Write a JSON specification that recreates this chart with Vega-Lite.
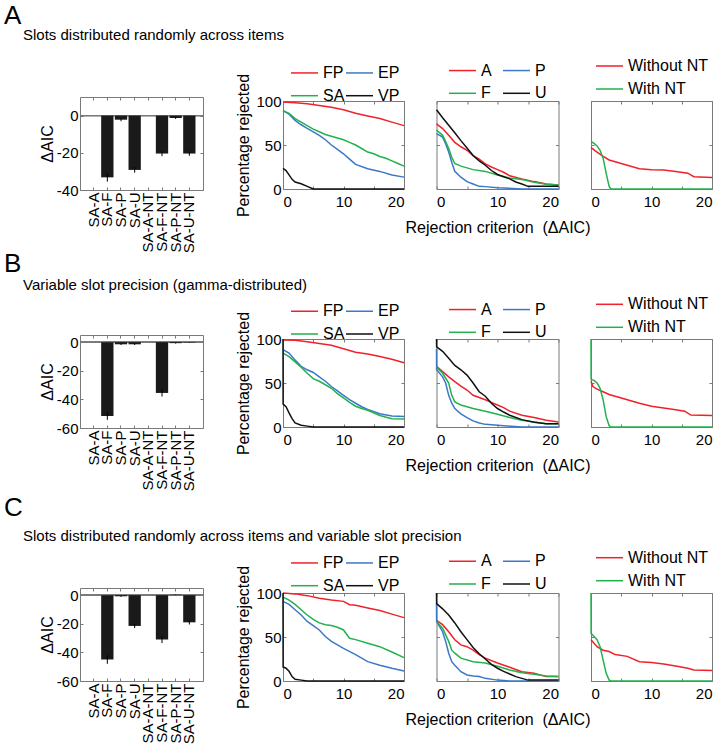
{
  "$schema": "https://vega.github.io/schema/vega-lite/v6.json",
  "autosize": {"type": "none"},
  "padding": {"left": 80, "top": 97, "right": 646, "bottom": 653},
  "background": "white",
  "config": {
    "font": "Liberation Sans",
    "view": {"stroke": "#7a7a7a", "strokeWidth": 1},
    "axis": {"domain": false, "grid": false, "ticks": true, "tickColor": "#7a7a7a", "tickSize": -3, "labelFontSize": 15, "labelColor": "#000", "titleFontSize": 16, "titleFontWeight": "normal", "titleColor": "#000", "labelPadding": 5},
    "axisX": {"labelPadding": 8},
    "legend": {"orient": "none", "symbolType": "stroke", "symbolSize": 729, "symbolStrokeWidth": 1.5, "labelFontSize": 16, "labelColor": "#000", "labelOffset": 4, "rowPadding": -8, "padding": 0, "columnPadding": -3},
    "title": {"fontWeight": "normal", "color": "#000", "anchor": "start", "frame": "group", "baseline": "alphabetic"},
    "line": {"strokeWidth": 1.5}
  },
  "datasets": {
    "B": [
      {"r": "A", "m": "SA-A", "v": 0, "lo": 0, "hi": 0},
      {"r": "A", "m": "SA-F", "v": -33.2, "lo": -35.5, "hi": -31},
      {"r": "A", "m": "SA-P", "v": -2.2, "lo": -3, "hi": -1.4},
      {"r": "A", "m": "SA-U", "v": -29.2, "lo": -30.7, "hi": -27.7},
      {"r": "A", "m": "SA-A-NT", "v": 0, "lo": 0, "hi": 0},
      {"r": "A", "m": "SA-F-NT", "v": -20.4, "lo": -21.8, "hi": -19},
      {"r": "A", "m": "SA-P-NT", "v": -1.3, "lo": -1.8, "hi": -0.8},
      {"r": "A", "m": "SA-U-NT", "v": -20.4, "lo": -21.6, "hi": -19.2},
      {"r": "B", "m": "SA-A", "v": 0, "lo": 0, "hi": 0},
      {"r": "B", "m": "SA-F", "v": -51.7, "lo": -54.3, "hi": -49},
      {"r": "B", "m": "SA-P", "v": -1.5, "lo": -2, "hi": -1},
      {"r": "B", "m": "SA-U", "v": -1.5, "lo": -2, "hi": -1},
      {"r": "B", "m": "SA-A-NT", "v": 0, "lo": 0, "hi": 0},
      {"r": "B", "m": "SA-F-NT", "v": -35.5, "lo": -38, "hi": -33},
      {"r": "B", "m": "SA-P-NT", "v": -0.7, "lo": -1, "hi": -0.4},
      {"r": "B", "m": "SA-U-NT", "v": -0.3, "lo": -0.5, "hi": -0.1},
      {"r": "C", "m": "SA-A", "v": 0, "lo": 0, "hi": 0},
      {"r": "C", "m": "SA-F", "v": -45, "lo": -48, "hi": -42},
      {"r": "C", "m": "SA-P", "v": -0.8, "lo": -1.2, "hi": -0.4},
      {"r": "C", "m": "SA-U", "v": -21.5, "lo": -23, "hi": -20},
      {"r": "C", "m": "SA-A-NT", "v": 0, "lo": 0, "hi": 0},
      {"r": "C", "m": "SA-F-NT", "v": -31, "lo": -33.5, "hi": -28.5},
      {"r": "C", "m": "SA-P-NT", "v": 0.3, "lo": 0.1, "hi": 0.5},
      {"r": "C", "m": "SA-U-NT", "v": -19, "lo": -20.5, "hi": -17.5}
    ],
    "L": [
      {"p":"A1","s":"FP","x":0,"y":99},{"p":"A1","s":"FP","x":2,"y":98},{"p":"A1","s":"FP","x":4,"y":97},{"p":"A1","s":"FP","x":6,"y":95},{"p":"A1","s":"FP","x":8,"y":93},{"p":"A1","s":"FP","x":10,"y":90},{"p":"A1","s":"FP","x":12,"y":86},{"p":"A1","s":"FP","x":14,"y":83},{"p":"A1","s":"FP","x":16,"y":80},{"p":"A1","s":"FP","x":18,"y":76},{"p":"A1","s":"FP","x":20,"y":72},
      {"p":"A1","s":"EP","x":0,"y":89},{"p":"A1","s":"EP","x":1,"y":85},{"p":"A1","s":"EP","x":2,"y":78},{"p":"A1","s":"EP","x":3,"y":73},{"p":"A1","s":"EP","x":4,"y":69},{"p":"A1","s":"EP","x":5,"y":65},{"p":"A1","s":"EP","x":6,"y":61},{"p":"A1","s":"EP","x":7,"y":56},{"p":"A1","s":"EP","x":8,"y":50},{"p":"A1","s":"EP","x":9,"y":45},{"p":"A1","s":"EP","x":10,"y":40},{"p":"A1","s":"EP","x":11,"y":34},{"p":"A1","s":"EP","x":12,"y":28},{"p":"A1","s":"EP","x":14,"y":23},{"p":"A1","s":"EP","x":16,"y":20},{"p":"A1","s":"EP","x":18,"y":16},{"p":"A1","s":"EP","x":20,"y":13.5},
      {"p":"A1","s":"SA","x":0,"y":89},{"p":"A1","s":"SA","x":1,"y":86},{"p":"A1","s":"SA","x":2,"y":80},{"p":"A1","s":"SA","x":3,"y":76},{"p":"A1","s":"SA","x":4,"y":72},{"p":"A1","s":"SA","x":5,"y":68},{"p":"A1","s":"SA","x":6,"y":65},{"p":"A1","s":"SA","x":7,"y":62},{"p":"A1","s":"SA","x":8,"y":60},{"p":"A1","s":"SA","x":9,"y":58},{"p":"A1","s":"SA","x":10,"y":56},{"p":"A1","s":"SA","x":11,"y":53},{"p":"A1","s":"SA","x":12,"y":50},{"p":"A1","s":"SA","x":13,"y":46},{"p":"A1","s":"SA","x":14,"y":42},{"p":"A1","s":"SA","x":15,"y":40},{"p":"A1","s":"SA","x":16,"y":37},{"p":"A1","s":"SA","x":17,"y":35},{"p":"A1","s":"SA","x":18,"y":32},{"p":"A1","s":"SA","x":19,"y":29},{"p":"A1","s":"SA","x":20,"y":26},
      {"p":"A1","s":"VP","x":0,"y":23.5},{"p":"A1","s":"VP","x":0.5,"y":21},{"p":"A1","s":"VP","x":1,"y":16},{"p":"A1","s":"VP","x":1.5,"y":11},{"p":"A1","s":"VP","x":2,"y":8},{"p":"A1","s":"VP","x":3,"y":6},{"p":"A1","s":"VP","x":4,"y":3},{"p":"A1","s":"VP","x":5,"y":0},{"p":"A1","s":"VP","x":20,"y":0},

      {"p":"A2","s":"A","x":0,"y":74},{"p":"A2","s":"A","x":1,"y":68.7},{"p":"A2","s":"A","x":2,"y":61},{"p":"A2","s":"A","x":3,"y":53},{"p":"A2","s":"A","x":4,"y":48},{"p":"A2","s":"A","x":5,"y":44},{"p":"A2","s":"A","x":6,"y":38},{"p":"A2","s":"A","x":7,"y":34},{"p":"A2","s":"A","x":8,"y":28.6},{"p":"A2","s":"A","x":9,"y":25},{"p":"A2","s":"A","x":10,"y":22},{"p":"A2","s":"A","x":11,"y":19},{"p":"A2","s":"A","x":12,"y":15},{"p":"A2","s":"A","x":14,"y":11.5},{"p":"A2","s":"A","x":16,"y":8.4},{"p":"A2","s":"A","x":18,"y":5.7},{"p":"A2","s":"A","x":20,"y":4.6},
      {"p":"A2","s":"P","x":0,"y":63},{"p":"A2","s":"P","x":1,"y":59},{"p":"A2","s":"P","x":1.5,"y":51.5},{"p":"A2","s":"P","x":2,"y":42},{"p":"A2","s":"P","x":2.5,"y":30.5},{"p":"A2","s":"P","x":3,"y":20},{"p":"A2","s":"P","x":4,"y":13.4},{"p":"A2","s":"P","x":5,"y":8.4},{"p":"A2","s":"P","x":6,"y":5.7},{"p":"A2","s":"P","x":7,"y":3},{"p":"A2","s":"P","x":8,"y":2.7},{"p":"A2","s":"P","x":10,"y":1.5},{"p":"A2","s":"P","x":14,"y":0},{"p":"A2","s":"P","x":20,"y":0},
      {"p":"A2","s":"F","x":0,"y":67},{"p":"A2","s":"F","x":1,"y":61},{"p":"A2","s":"F","x":1.5,"y":54},{"p":"A2","s":"F","x":2,"y":46},{"p":"A2","s":"F","x":2.5,"y":36},{"p":"A2","s":"F","x":3,"y":29},{"p":"A2","s":"F","x":4,"y":26},{"p":"A2","s":"F","x":6,"y":22},{"p":"A2","s":"F","x":8,"y":20},{"p":"A2","s":"F","x":10,"y":16},{"p":"A2","s":"F","x":12,"y":12.6},{"p":"A2","s":"F","x":14,"y":10.7},{"p":"A2","s":"F","x":16,"y":7.6},{"p":"A2","s":"F","x":18,"y":5.3},{"p":"A2","s":"F","x":20,"y":4.6},
      {"p":"A2","s":"U","x":0,"y":90},{"p":"A2","s":"U","x":1,"y":81},{"p":"A2","s":"U","x":2,"y":72.5},{"p":"A2","s":"U","x":3,"y":64},{"p":"A2","s":"U","x":4,"y":55},{"p":"A2","s":"U","x":5,"y":46.5},{"p":"A2","s":"U","x":6,"y":38},{"p":"A2","s":"U","x":7,"y":32},{"p":"A2","s":"U","x":8,"y":27},{"p":"A2","s":"U","x":9,"y":21},{"p":"A2","s":"U","x":10,"y":16.5},{"p":"A2","s":"U","x":11,"y":14},{"p":"A2","s":"U","x":12,"y":11.5},{"p":"A2","s":"U","x":13,"y":8},{"p":"A2","s":"U","x":14,"y":5.7},{"p":"A2","s":"U","x":15,"y":3},{"p":"A2","s":"U","x":20,"y":3},

      {"p":"A3","s":"Without NT","x":0,"y":47},{"p":"A3","s":"Without NT","x":1,"y":42},{"p":"A3","s":"Without NT","x":2,"y":37},{"p":"A3","s":"Without NT","x":3,"y":33},{"p":"A3","s":"Without NT","x":4,"y":31},{"p":"A3","s":"Without NT","x":6,"y":27},{"p":"A3","s":"Without NT","x":8,"y":23},{"p":"A3","s":"Without NT","x":10,"y":22},{"p":"A3","s":"Without NT","x":12,"y":21.5},{"p":"A3","s":"Without NT","x":14,"y":20},{"p":"A3","s":"Without NT","x":16,"y":18},{"p":"A3","s":"Without NT","x":17,"y":14},{"p":"A3","s":"Without NT","x":20,"y":13},
      {"p":"A3","s":"With NT","x":0,"y":54},{"p":"A3","s":"With NT","x":0.5,"y":52},{"p":"A3","s":"With NT","x":1,"y":49},{"p":"A3","s":"With NT","x":1.5,"y":44},{"p":"A3","s":"With NT","x":2,"y":35},{"p":"A3","s":"With NT","x":2.5,"y":18},{"p":"A3","s":"With NT","x":3,"y":3},{"p":"A3","s":"With NT","x":3.3,"y":0},{"p":"A3","s":"With NT","x":20,"y":0},

      {"p":"B1","s":"FP","x":0,"y":99},{"p":"B1","s":"FP","x":2,"y":98.5},{"p":"B1","s":"FP","x":4,"y":97},{"p":"B1","s":"FP","x":6,"y":95},{"p":"B1","s":"FP","x":8,"y":93},{"p":"B1","s":"FP","x":10,"y":89},{"p":"B1","s":"FP","x":12,"y":85},{"p":"B1","s":"FP","x":14,"y":83},{"p":"B1","s":"FP","x":16,"y":80},{"p":"B1","s":"FP","x":18,"y":77},{"p":"B1","s":"FP","x":20,"y":73},
      {"p":"B1","s":"EP","x":0,"y":88},{"p":"B1","s":"EP","x":1,"y":84},{"p":"B1","s":"EP","x":2,"y":76},{"p":"B1","s":"EP","x":3,"y":69},{"p":"B1","s":"EP","x":4,"y":65},{"p":"B1","s":"EP","x":5,"y":62},{"p":"B1","s":"EP","x":6,"y":57},{"p":"B1","s":"EP","x":7,"y":52},{"p":"B1","s":"EP","x":8,"y":46},{"p":"B1","s":"EP","x":9,"y":41},{"p":"B1","s":"EP","x":10,"y":36},{"p":"B1","s":"EP","x":11,"y":31},{"p":"B1","s":"EP","x":12,"y":27},{"p":"B1","s":"EP","x":13,"y":23},{"p":"B1","s":"EP","x":14,"y":20},{"p":"B1","s":"EP","x":16,"y":15},{"p":"B1","s":"EP","x":18,"y":12.5},{"p":"B1","s":"EP","x":20,"y":12},
      {"p":"B1","s":"SA","x":0,"y":84},{"p":"B1","s":"SA","x":1,"y":80},{"p":"B1","s":"SA","x":2,"y":74},{"p":"B1","s":"SA","x":3,"y":68},{"p":"B1","s":"SA","x":4,"y":61},{"p":"B1","s":"SA","x":5,"y":55},{"p":"B1","s":"SA","x":6,"y":52},{"p":"B1","s":"SA","x":7,"y":48},{"p":"B1","s":"SA","x":8,"y":44},{"p":"B1","s":"SA","x":9,"y":38},{"p":"B1","s":"SA","x":10,"y":33},{"p":"B1","s":"SA","x":11,"y":28},{"p":"B1","s":"SA","x":12,"y":23.6},{"p":"B1","s":"SA","x":13,"y":21},{"p":"B1","s":"SA","x":14,"y":19},{"p":"B1","s":"SA","x":16,"y":13},{"p":"B1","s":"SA","x":18,"y":9.5},{"p":"B1","s":"SA","x":20,"y":9},
      {"p":"B1","s":"VP","x":0,"y":100},{"p":"B1","s":"VP","x":0.02,"y":26},{"p":"B1","s":"VP","x":0.5,"y":23},{"p":"B1","s":"VP","x":1,"y":16},{"p":"B1","s":"VP","x":1.5,"y":9.5},{"p":"B1","s":"VP","x":2,"y":4.6},{"p":"B1","s":"VP","x":3,"y":2},{"p":"B1","s":"VP","x":4,"y":1},{"p":"B1","s":"VP","x":5,"y":0},{"p":"B1","s":"VP","x":20,"y":0},

      {"p":"B2","s":"A","x":0,"y":69},{"p":"B2","s":"A","x":1,"y":63},{"p":"B2","s":"A","x":2,"y":57},{"p":"B2","s":"A","x":3,"y":51.5},{"p":"B2","s":"A","x":4,"y":46.5},{"p":"B2","s":"A","x":5,"y":42},{"p":"B2","s":"A","x":6,"y":36},{"p":"B2","s":"A","x":7,"y":33.6},{"p":"B2","s":"A","x":8,"y":31},{"p":"B2","s":"A","x":9,"y":28},{"p":"B2","s":"A","x":10,"y":25},{"p":"B2","s":"A","x":11,"y":22},{"p":"B2","s":"A","x":12,"y":18},{"p":"B2","s":"A","x":14,"y":13.4},{"p":"B2","s":"A","x":16,"y":10.7},{"p":"B2","s":"A","x":18,"y":7.6},{"p":"B2","s":"A","x":20,"y":5.7},
      {"p":"B2","s":"P","x":0,"y":89},{"p":"B2","s":"P","x":0.02,"y":65},{"p":"B2","s":"P","x":1,"y":57},{"p":"B2","s":"P","x":1.5,"y":50},{"p":"B2","s":"P","x":2,"y":36},{"p":"B2","s":"P","x":2.5,"y":27},{"p":"B2","s":"P","x":3,"y":21},{"p":"B2","s":"P","x":4,"y":15},{"p":"B2","s":"P","x":5,"y":10.7},{"p":"B2","s":"P","x":6,"y":7},{"p":"B2","s":"P","x":7,"y":4.6},{"p":"B2","s":"P","x":8,"y":3},{"p":"B2","s":"P","x":10,"y":2},{"p":"B2","s":"P","x":14,"y":0},{"p":"B2","s":"P","x":20,"y":0},
      {"p":"B2","s":"F","x":0,"y":68},{"p":"B2","s":"F","x":1,"y":61},{"p":"B2","s":"F","x":2,"y":50},{"p":"B2","s":"F","x":2.5,"y":36},{"p":"B2","s":"F","x":3,"y":28.6},{"p":"B2","s":"F","x":4,"y":25},{"p":"B2","s":"F","x":6,"y":21},{"p":"B2","s":"F","x":8,"y":18},{"p":"B2","s":"F","x":10,"y":14.5},{"p":"B2","s":"F","x":12,"y":10.7},{"p":"B2","s":"F","x":14,"y":7.6},{"p":"B2","s":"F","x":16,"y":5.7},{"p":"B2","s":"F","x":18,"y":3.8},{"p":"B2","s":"F","x":20,"y":3.8},
      {"p":"B2","s":"U","x":0,"y":100},{"p":"B2","s":"U","x":0.02,"y":91},{"p":"B2","s":"U","x":1,"y":86},{"p":"B2","s":"U","x":2,"y":78},{"p":"B2","s":"U","x":3,"y":70},{"p":"B2","s":"U","x":4,"y":65},{"p":"B2","s":"U","x":5,"y":59},{"p":"B2","s":"U","x":6,"y":50},{"p":"B2","s":"U","x":7,"y":40},{"p":"B2","s":"U","x":8,"y":35},{"p":"B2","s":"U","x":9,"y":27},{"p":"B2","s":"U","x":10,"y":21},{"p":"B2","s":"U","x":11,"y":17},{"p":"B2","s":"U","x":12,"y":13.4},{"p":"B2","s":"U","x":14,"y":8.4},{"p":"B2","s":"U","x":16,"y":5.3},{"p":"B2","s":"U","x":18,"y":3.8},{"p":"B2","s":"U","x":20,"y":3.8},

      {"p":"B3","s":"Without NT","x":0,"y":52},{"p":"B3","s":"Without NT","x":0.3,"y":46},{"p":"B3","s":"Without NT","x":1,"y":43},{"p":"B3","s":"Without NT","x":2,"y":40},{"p":"B3","s":"Without NT","x":3,"y":37},{"p":"B3","s":"Without NT","x":4,"y":35},{"p":"B3","s":"Without NT","x":5,"y":33},{"p":"B3","s":"Without NT","x":6,"y":31},{"p":"B3","s":"Without NT","x":7,"y":29},{"p":"B3","s":"Without NT","x":8,"y":27},{"p":"B3","s":"Without NT","x":10,"y":23.5},{"p":"B3","s":"Without NT","x":12,"y":21.5},{"p":"B3","s":"Without NT","x":14,"y":19.5},{"p":"B3","s":"Without NT","x":15.5,"y":18},{"p":"B3","s":"Without NT","x":16.5,"y":13.5},{"p":"B3","s":"Without NT","x":20,"y":13},
      {"p":"B3","s":"With NT","x":0,"y":100},{"p":"B3","s":"With NT","x":0.02,"y":54},{"p":"B3","s":"With NT","x":0.5,"y":53},{"p":"B3","s":"With NT","x":1,"y":50},{"p":"B3","s":"With NT","x":1.5,"y":44},{"p":"B3","s":"With NT","x":2,"y":31},{"p":"B3","s":"With NT","x":2.5,"y":12},{"p":"B3","s":"With NT","x":3,"y":1.5},{"p":"B3","s":"With NT","x":3.3,"y":0},{"p":"B3","s":"With NT","x":20,"y":0},

      {"p":"C1","s":"FP","x":0,"y":100},{"p":"C1","s":"FP","x":2,"y":99},{"p":"C1","s":"FP","x":4,"y":97},{"p":"C1","s":"FP","x":6,"y":94},{"p":"C1","s":"FP","x":8,"y":92},{"p":"C1","s":"FP","x":10,"y":90.5},{"p":"C1","s":"FP","x":11,"y":86.7},{"p":"C1","s":"FP","x":12,"y":86},{"p":"C1","s":"FP","x":14,"y":83},{"p":"C1","s":"FP","x":16,"y":80},{"p":"C1","s":"FP","x":18,"y":76},{"p":"C1","s":"FP","x":20,"y":72},
      {"p":"C1","s":"EP","x":0,"y":90.5},{"p":"C1","s":"EP","x":1,"y":87},{"p":"C1","s":"EP","x":2,"y":81},{"p":"C1","s":"EP","x":3,"y":75},{"p":"C1","s":"EP","x":4,"y":67.7},{"p":"C1","s":"EP","x":5,"y":63},{"p":"C1","s":"EP","x":6,"y":58},{"p":"C1","s":"EP","x":7,"y":50.5},{"p":"C1","s":"EP","x":8,"y":45},{"p":"C1","s":"EP","x":9,"y":41},{"p":"C1","s":"EP","x":10,"y":37},{"p":"C1","s":"EP","x":12,"y":30},{"p":"C1","s":"EP","x":14,"y":22},{"p":"C1","s":"EP","x":16,"y":18},{"p":"C1","s":"EP","x":18,"y":14.5},{"p":"C1","s":"EP","x":20,"y":11.4},
      {"p":"C1","s":"SA","x":0,"y":95.4},{"p":"C1","s":"SA","x":1,"y":92},{"p":"C1","s":"SA","x":2,"y":87},{"p":"C1","s":"SA","x":3,"y":81},{"p":"C1","s":"SA","x":4,"y":75},{"p":"C1","s":"SA","x":5,"y":70},{"p":"C1","s":"SA","x":6,"y":66},{"p":"C1","s":"SA","x":7,"y":64},{"p":"C1","s":"SA","x":8,"y":63},{"p":"C1","s":"SA","x":9,"y":61},{"p":"C1","s":"SA","x":10,"y":58},{"p":"C1","s":"SA","x":11,"y":48.6},{"p":"C1","s":"SA","x":12,"y":47},{"p":"C1","s":"SA","x":14,"y":43},{"p":"C1","s":"SA","x":16,"y":39},{"p":"C1","s":"SA","x":18,"y":33},{"p":"C1","s":"SA","x":20,"y":26.5},
      {"p":"C1","s":"VP","x":0,"y":100},{"p":"C1","s":"VP","x":0.02,"y":16},{"p":"C1","s":"VP","x":0.5,"y":14.5},{"p":"C1","s":"VP","x":1,"y":11},{"p":"C1","s":"VP","x":1.5,"y":5},{"p":"C1","s":"VP","x":2,"y":2},{"p":"C1","s":"VP","x":3,"y":1},{"p":"C1","s":"VP","x":4,"y":0},{"p":"C1","s":"VP","x":20,"y":0},

      {"p":"C2","s":"A","x":0,"y":69},{"p":"C2","s":"A","x":1,"y":64},{"p":"C2","s":"A","x":2,"y":56},{"p":"C2","s":"A","x":3,"y":46.8},{"p":"C2","s":"A","x":4,"y":41},{"p":"C2","s":"A","x":5,"y":39},{"p":"C2","s":"A","x":6,"y":35},{"p":"C2","s":"A","x":7,"y":30},{"p":"C2","s":"A","x":8,"y":26},{"p":"C2","s":"A","x":10,"y":20.5},{"p":"C2","s":"A","x":12,"y":15.6},{"p":"C2","s":"A","x":14,"y":10.6},{"p":"C2","s":"A","x":16,"y":8.7},{"p":"C2","s":"A","x":18,"y":5},{"p":"C2","s":"A","x":20,"y":5},
      {"p":"C2","s":"P","x":0,"y":88},{"p":"C2","s":"P","x":0.02,"y":67.7},{"p":"C2","s":"P","x":1,"y":56},{"p":"C2","s":"P","x":1.5,"y":45},{"p":"C2","s":"P","x":2,"y":31.6},{"p":"C2","s":"P","x":2.5,"y":22},{"p":"C2","s":"P","x":3,"y":18},{"p":"C2","s":"P","x":4,"y":10.6},{"p":"C2","s":"P","x":5,"y":6.8},{"p":"C2","s":"P","x":6,"y":5.7},{"p":"C2","s":"P","x":7,"y":5},{"p":"C2","s":"P","x":8,"y":3},{"p":"C2","s":"P","x":10,"y":1},{"p":"C2","s":"P","x":12,"y":0},{"p":"C2","s":"P","x":20,"y":0},
      {"p":"C2","s":"F","x":0,"y":67.7},{"p":"C2","s":"F","x":1,"y":60},{"p":"C2","s":"F","x":2,"y":45},{"p":"C2","s":"F","x":2.5,"y":35},{"p":"C2","s":"F","x":3,"y":31.6},{"p":"C2","s":"F","x":4,"y":26},{"p":"C2","s":"F","x":6,"y":22},{"p":"C2","s":"F","x":8,"y":20.5},{"p":"C2","s":"F","x":10,"y":16.7},{"p":"C2","s":"F","x":12,"y":12.5},{"p":"C2","s":"F","x":14,"y":9.5},{"p":"C2","s":"F","x":16,"y":7.6},{"p":"C2","s":"F","x":18,"y":5.7},{"p":"C2","s":"F","x":20,"y":5},
      {"p":"C2","s":"U","x":0,"y":100},{"p":"C2","s":"U","x":0.02,"y":88},{"p":"C2","s":"U","x":1,"y":82},{"p":"C2","s":"U","x":2,"y":75},{"p":"C2","s":"U","x":3,"y":66},{"p":"C2","s":"U","x":4,"y":56},{"p":"C2","s":"U","x":5,"y":47},{"p":"C2","s":"U","x":6,"y":38},{"p":"C2","s":"U","x":7,"y":31},{"p":"C2","s":"U","x":8,"y":25},{"p":"C2","s":"U","x":9,"y":19},{"p":"C2","s":"U","x":10,"y":14.5},{"p":"C2","s":"U","x":11,"y":11},{"p":"C2","s":"U","x":12,"y":8},{"p":"C2","s":"U","x":13,"y":5},{"p":"C2","s":"U","x":14,"y":3},{"p":"C2","s":"U","x":15,"y":1},{"p":"C2","s":"U","x":20,"y":1},

      {"p":"C3","s":"Without NT","x":0,"y":47},{"p":"C3","s":"Without NT","x":1,"y":39},{"p":"C3","s":"Without NT","x":2,"y":35},{"p":"C3","s":"Without NT","x":3,"y":33.5},{"p":"C3","s":"Without NT","x":4,"y":30},{"p":"C3","s":"Without NT","x":6,"y":28},{"p":"C3","s":"Without NT","x":8,"y":22},{"p":"C3","s":"Without NT","x":10,"y":21},{"p":"C3","s":"Without NT","x":12,"y":19.4},{"p":"C3","s":"Without NT","x":14,"y":17},{"p":"C3","s":"Without NT","x":16,"y":14.5},{"p":"C3","s":"Without NT","x":17,"y":12.5},{"p":"C3","s":"Without NT","x":20,"y":12},
      {"p":"C3","s":"With NT","x":0,"y":100},{"p":"C3","s":"With NT","x":0.02,"y":54},{"p":"C3","s":"With NT","x":0.5,"y":50.6},{"p":"C3","s":"With NT","x":1,"y":47},{"p":"C3","s":"With NT","x":1.5,"y":39},{"p":"C3","s":"With NT","x":2,"y":24},{"p":"C3","s":"With NT","x":2.5,"y":9},{"p":"C3","s":"With NT","x":3,"y":1},{"p":"C3","s":"With NT","x":3.3,"y":0},{"p":"C3","s":"With NT","x":20,"y":0}
    ]
  },
  "spacing": 203,
  "bounds": "flush",
  "resolve": {"scale": {"color": "independent"}},
  "hconcat": [
    {
      "bounds": "flush", "spacing": 238,
      "vconcat": [
        {
          "bounds": "flush",
          "title": {"text": "A", "fontSize": 26, "dx": -76, "offset": -2},
          "vconcat": [
            {
              "width": 123, "height": 93,
              "title": {"text": "Slots distributed randomly across items", "fontSize": 15, "dx": -57, "offset": 54},
              "data": {"name": "B"},
              "transform": [{"filter": "datum.r == 'A'"}],
              "resolve": {"axis": {"x": "independent", "y": "independent"}},
              "layer": [
                {"mark": {"type": "rule", "color": "#7a7a7a"}, "encoding": {"y": {"datum": 0, "type": "quantitative", "axis": null}}},
                {"mark": {"type": "bar", "color": "#1a1a1a"},
                 "encoding": {
                   "x": {"field": "m", "type": "nominal", "sort": null, "scale": {"paddingInner": 0.1, "paddingOuter": 0.55}, "axis": {"title": null, "labelAngle": -90, "labelPadding": 5}},
                   "y": {"field": "v", "type": "quantitative", "scale": {"domain": [-40, 10], "nice": false}, "axis": {"values": [-40, -20, 0], "labelExpr": "'' + datum.value", "title": "ΔAIC", "titlePadding": 1}}}},
                {"mark": {"type": "rule", "color": "#000"},
                 "encoding": {"x": {"field": "m", "type": "nominal", "sort": null, "axis": null}, "y": {"field": "lo", "type": "quantitative", "axis": null}, "y2": {"field": "hi"}}},
                {"mark": {"type": "tick", "opacity": 0},
                 "encoding": {"x": {"field": "m", "type": "nominal", "sort": null, "axis": {"orient": "top", "labels": false, "title": null}}, "y": {"field": "v", "type": "quantitative", "axis": {"orient": "right", "values": [-40, -20, 0], "labels": false, "title": null}}}}
              ]
            }
          ]
        },
        {
          "bounds": "flush", "spacing": 253,
          "vconcat": [
            {
              "bounds": "flush",
              "title": {"text": "B", "fontSize": 26, "dx": -76, "offset": 0},
              "vconcat": [
                {
                  "width": 123, "height": 93,
                  "title": {"text": "Variable slot precision (gamma-distributed)", "fontSize": 15, "dx": -57, "offset": 42},
                  "data": {"name": "B"},
                  "transform": [{"filter": "datum.r == 'B'"}],
                  "resolve": {"axis": {"x": "independent", "y": "independent"}},
                  "layer": [
                    {"mark": {"type": "rule", "color": "#7a7a7a"}, "encoding": {"y": {"datum": 0, "type": "quantitative", "axis": null}}},
                    {"mark": {"type": "bar", "color": "#1a1a1a"},
                     "encoding": {
                       "x": {"field": "m", "type": "nominal", "sort": null, "scale": {"paddingInner": 0.1, "paddingOuter": 0.55}, "axis": {"title": null, "labelAngle": -90, "labelPadding": 5}},
                       "y": {"field": "v", "type": "quantitative", "scale": {"domain": [-60, 5], "nice": false}, "axis": {"values": [-60, -40, -20, 0], "labelExpr": "'' + datum.value", "title": "ΔAIC", "titlePadding": 1}}}},
                    {"mark": {"type": "rule", "color": "#000"},
                     "encoding": {"x": {"field": "m", "type": "nominal", "sort": null, "axis": null}, "y": {"field": "lo", "type": "quantitative", "axis": null}, "y2": {"field": "hi"}}},
                    {"mark": {"type": "tick", "opacity": 0},
                     "encoding": {"x": {"field": "m", "type": "nominal", "sort": null, "axis": {"orient": "top", "labels": false, "title": null}}, "y": {"field": "v", "type": "quantitative", "axis": {"orient": "right", "values": [-60, -40, -20, 0], "labels": false, "title": null}}}}
                  ]
                }
              ]
            },
            {
              "bounds": "flush",
              "title": {"text": "C", "fontSize": 26, "dx": -76, "offset": 7},
              "vconcat": [
                {
                  "width": 123, "height": 93,
                  "title": {"text": "Slots distributed randomly across items and variable slot precision", "fontSize": 15, "dx": -57, "offset": 44},
                  "data": {"name": "B"},
                  "transform": [{"filter": "datum.r == 'C'"}],
                  "resolve": {"axis": {"x": "independent", "y": "independent"}},
                  "layer": [
                    {"mark": {"type": "rule", "color": "#7a7a7a"}, "encoding": {"y": {"datum": 0, "type": "quantitative", "axis": null}}},
                    {"mark": {"type": "bar", "color": "#1a1a1a"},
                     "encoding": {
                       "x": {"field": "m", "type": "nominal", "sort": null, "scale": {"paddingInner": 0.1, "paddingOuter": 0.55}, "axis": {"title": null, "labelAngle": -90, "labelPadding": 5}},
                       "y": {"field": "v", "type": "quantitative", "scale": {"domain": [-60, 5], "nice": false}, "axis": {"values": [-60, -40, -20, 0], "labelExpr": "'' + datum.value", "title": "ΔAIC", "titlePadding": 1}}}},
                    {"mark": {"type": "rule", "color": "#000"},
                     "encoding": {"x": {"field": "m", "type": "nominal", "sort": null, "axis": null}, "y": {"field": "lo", "type": "quantitative", "axis": null}, "y2": {"field": "hi"}}},
                    {"mark": {"type": "tick", "opacity": 0},
                     "encoding": {"x": {"field": "m", "type": "nominal", "sort": null, "axis": {"orient": "top", "labels": false, "title": null}}, "y": {"field": "v", "type": "quantitative", "axis": {"orient": "right", "values": [-60, -40, -20, 0], "labels": false, "title": null}}}}
                  ]
                }
              ]
            }
          ]
        }
      ]
    },
    {
      "bounds": "flush", "spacing": 0,
      "resolve": {"scale": {"color": "independent"}},
      "vconcat": [
        {"width": 1, "height": 4, "data": {"values": []}, "mark": "point", "view": {"stroke": null}},
        {
          "bounds": "flush", "spacing": 238,
          "resolve": {"scale": {"color": "independent"}},
          "vconcat": [
            {
              "bounds": "flush", "spacing": 32.5,
              "resolve": {"scale": {"color": "independent"}},
              "hconcat": [
                {"width": 121, "height": 88, "data": {"name": "L"}, "transform": [{"filter": "datum.p == 'A1'"}],
                 "resolve": {"axis": {"x": "independent", "y": "independent"}},
                 "layer": [
                  {"mark": {"type": "line"},
                   "encoding": {
                     "x": {"field": "x", "type": "quantitative", "scale": {"domain": [0, 20], "nice": false}, "axis": {"values": [0, 5, 10, 15, 20], "labelExpr": "datum.value % 10 === 0 ? datum.label : ''", "title": null}},
                     "y": {"field": "y", "type": "quantitative", "scale": {"domain": [0, 100], "nice": false}, "axis": {"values": [0, 50, 100], "title": "Percentage rejected", "titlePadding": 4}},
                     "color": {"field": "s", "type": "nominal", "scale": {"domain": ["FP", "SA", "EP", "VP"], "range": ["#f0212a", "#22b14c", "#3b78c8", "#111111"]}, "legend": {"title": null, "columns": 2, "legendX": 7, "legendY": -42.8}}}},
                  {"mark": {"type": "point", "opacity": 0},
                   "encoding": {
                     "x": {"field": "x", "type": "quantitative", "axis": {"orient": "top", "values": [0, 5, 10, 15, 20], "labels": false, "title": null}},
                     "y": {"field": "y", "type": "quantitative", "axis": {"orient": "right", "values": [0, 50, 100], "labels": false, "title": null}}}}
                 ]},
                {"width": 122, "height": 88, "data": {"name": "L"}, "transform": [{"filter": "datum.p == 'A2'"}],
                 "resolve": {"axis": {"x": "independent", "y": "independent"}},
                 "layer": [
                  {"mark": {"type": "line"},
                   "encoding": {
                     "x": {"field": "x", "type": "quantitative", "scale": {"domain": [0, 20], "nice": false}, "axis": {"values": [0, 5, 10, 15, 20], "labelExpr": "datum.value % 10 === 0 ? datum.label : ''", "title": "Rejection criterion \u00a0(ΔAIC)", "titleBaseline": "alphabetic", "titlePadding": 23}},
                     "y": {"field": "y", "type": "quantitative", "scale": {"domain": [0, 100], "nice": false}, "axis": {"values": [0, 50, 100], "labels": false, "title": null}},
                     "color": {"field": "s", "type": "nominal", "scale": {"domain": ["A", "F", "P", "U"], "range": ["#f0212a", "#22b14c", "#3b78c8", "#111111"]}, "legend": {"title": null, "columns": 2, "columnPadding": 8, "legendX": 11.5, "legendY": -45.2}}}},
                  {"mark": {"type": "point", "opacity": 0},
                   "encoding": {
                     "x": {"field": "x", "type": "quantitative", "axis": {"orient": "top", "values": [0, 5, 10, 15, 20], "labels": false, "title": null}},
                     "y": {"field": "y", "type": "quantitative", "axis": {"orient": "right", "values": [0, 50, 100], "labels": false, "title": null}}}}
                 ]},
                {"width": 121, "height": 88, "data": {"name": "L"}, "transform": [{"filter": "datum.p == 'A3'"}],
                 "resolve": {"axis": {"x": "independent", "y": "independent"}},
                 "layer": [
                  {"mark": {"type": "line"},
                   "encoding": {
                     "x": {"field": "x", "type": "quantitative", "scale": {"domain": [0, 20], "nice": false}, "axis": {"values": [0, 5, 10, 15, 20], "labelExpr": "datum.value % 10 === 0 ? datum.label : ''", "title": null}},
                     "y": {"field": "y", "type": "quantitative", "scale": {"domain": [0, 100], "nice": false}, "axis": {"values": [0, 50, 100], "labels": false, "title": null}},
                     "color": {"field": "s", "type": "nominal", "scale": {"domain": ["Without NT", "With NT"], "range": ["#f0212a", "#22b14c"]}, "legend": {"title": null, "columns": 1, "rowPadding": -8.7, "legendX": 4, "legendY": -49.5}}}},
                  {"mark": {"type": "point", "opacity": 0},
                   "encoding": {
                     "x": {"field": "x", "type": "quantitative", "axis": {"orient": "top", "values": [0, 5, 10, 15, 20], "labels": false, "title": null}},
                     "y": {"field": "y", "type": "quantitative", "axis": {"orient": "right", "values": [0, 50, 100], "labels": false, "title": null}}}}
                 ]}
              ]
            },
            {
              "bounds": "flush", "spacing": 254,
              "resolve": {"scale": {"color": "independent"}},
              "vconcat": [
                {
                  "bounds": "flush", "spacing": 32.5,
                  "resolve": {"scale": {"color": "independent"}},
                  "hconcat": [
                    {"width": 121, "height": 88, "data": {"name": "L"}, "transform": [{"filter": "datum.p == 'B1'"}],
                     "resolve": {"axis": {"x": "independent", "y": "independent"}},
                     "layer": [
                      {"mark": {"type": "line"},
                       "encoding": {
                         "x": {"field": "x", "type": "quantitative", "scale": {"domain": [0, 20], "nice": false}, "axis": {"values": [0, 5, 10, 15, 20], "labelExpr": "datum.value % 10 === 0 ? datum.label : ''", "title": null}},
                         "y": {"field": "y", "type": "quantitative", "scale": {"domain": [0, 100], "nice": false}, "axis": {"values": [0, 50, 100], "title": "Percentage rejected", "titlePadding": 4}},
                         "color": {"field": "s", "type": "nominal", "scale": {"domain": ["FP", "SA", "EP", "VP"], "range": ["#f0212a", "#22b14c", "#3b78c8", "#111111"]}, "legend": {"title": null, "columns": 2, "legendX": 7, "legendY": -42.5}}}},
                      {"mark": {"type": "point", "opacity": 0},
                       "encoding": {
                         "x": {"field": "x", "type": "quantitative", "axis": {"orient": "top", "values": [0, 5, 10, 15, 20], "labels": false, "title": null}},
                         "y": {"field": "y", "type": "quantitative", "axis": {"orient": "right", "values": [0, 50, 100], "labels": false, "title": null}}}}
                     ]},
                    {"width": 122, "height": 88, "data": {"name": "L"}, "transform": [{"filter": "datum.p == 'B2'"}],
                     "resolve": {"axis": {"x": "independent", "y": "independent"}},
                     "layer": [
                      {"mark": {"type": "line"},
                       "encoding": {
                         "x": {"field": "x", "type": "quantitative", "scale": {"domain": [0, 20], "nice": false}, "axis": {"values": [0, 5, 10, 15, 20], "labelExpr": "datum.value % 10 === 0 ? datum.label : ''", "title": "Rejection criterion \u00a0(ΔAIC)", "titleBaseline": "alphabetic", "titlePadding": 23}},
                         "y": {"field": "y", "type": "quantitative", "scale": {"domain": [0, 100], "nice": false}, "axis": {"values": [0, 50, 100], "labels": false, "title": null}},
                         "color": {"field": "s", "type": "nominal", "scale": {"domain": ["A", "F", "P", "U"], "range": ["#f0212a", "#22b14c", "#3b78c8", "#111111"]}, "legend": {"title": null, "columns": 2, "columnPadding": 8, "legendX": 11.5, "legendY": -44.2}}}},
                      {"mark": {"type": "point", "opacity": 0},
                       "encoding": {
                         "x": {"field": "x", "type": "quantitative", "axis": {"orient": "top", "values": [0, 5, 10, 15, 20], "labels": false, "title": null}},
                         "y": {"field": "y", "type": "quantitative", "axis": {"orient": "right", "values": [0, 50, 100], "labels": false, "title": null}}}}
                     ]},
                    {"width": 121, "height": 88, "data": {"name": "L"}, "transform": [{"filter": "datum.p == 'B3'"}],
                     "resolve": {"axis": {"x": "independent", "y": "independent"}},
                     "layer": [
                      {"mark": {"type": "line"},
                       "encoding": {
                         "x": {"field": "x", "type": "quantitative", "scale": {"domain": [0, 20], "nice": false}, "axis": {"values": [0, 5, 10, 15, 20], "labelExpr": "datum.value % 10 === 0 ? datum.label : ''", "title": null}},
                         "y": {"field": "y", "type": "quantitative", "scale": {"domain": [0, 100], "nice": false}, "axis": {"values": [0, 50, 100], "labels": false, "title": null}},
                         "color": {"field": "s", "type": "nominal", "scale": {"domain": ["Without NT", "With NT"], "range": ["#f0212a", "#22b14c"]}, "legend": {"title": null, "columns": 1, "rowPadding": -8.7, "legendX": 4, "legendY": -49.2}}}},
                      {"mark": {"type": "point", "opacity": 0},
                       "encoding": {
                         "x": {"field": "x", "type": "quantitative", "axis": {"orient": "top", "values": [0, 5, 10, 15, 20], "labels": false, "title": null}},
                         "y": {"field": "y", "type": "quantitative", "axis": {"orient": "right", "values": [0, 50, 100], "labels": false, "title": null}}}}
                     ]}
                  ]
                },
                {
                  "bounds": "flush", "spacing": 32.5,
                  "resolve": {"scale": {"color": "independent"}},
                  "hconcat": [
                    {"width": 121, "height": 88, "data": {"name": "L"}, "transform": [{"filter": "datum.p == 'C1'"}],
                     "resolve": {"axis": {"x": "independent", "y": "independent"}},
                     "layer": [
                      {"mark": {"type": "line"},
                       "encoding": {
                         "x": {"field": "x", "type": "quantitative", "scale": {"domain": [0, 20], "nice": false}, "axis": {"values": [0, 5, 10, 15, 20], "labelExpr": "datum.value % 10 === 0 ? datum.label : ''", "title": null}},
                         "y": {"field": "y", "type": "quantitative", "scale": {"domain": [0, 100], "nice": false}, "axis": {"values": [0, 50, 100], "title": "Percentage rejected", "titlePadding": 4}},
                         "color": {"field": "s", "type": "nominal", "scale": {"domain": ["FP", "SA", "EP", "VP"], "range": ["#f0212a", "#22b14c", "#3b78c8", "#111111"]}, "legend": {"title": null, "columns": 2, "legendX": 7, "legendY": -44.8}}}},
                      {"mark": {"type": "point", "opacity": 0},
                       "encoding": {
                         "x": {"field": "x", "type": "quantitative", "axis": {"orient": "top", "values": [0, 5, 10, 15, 20], "labels": false, "title": null}},
                         "y": {"field": "y", "type": "quantitative", "axis": {"orient": "right", "values": [0, 50, 100], "labels": false, "title": null}}}}
                     ]},
                    {"width": 122, "height": 88, "data": {"name": "L"}, "transform": [{"filter": "datum.p == 'C2'"}],
                     "resolve": {"axis": {"x": "independent", "y": "independent"}},
                     "layer": [
                      {"mark": {"type": "line"},
                       "encoding": {
                         "x": {"field": "x", "type": "quantitative", "scale": {"domain": [0, 20], "nice": false}, "axis": {"values": [0, 5, 10, 15, 20], "labelExpr": "datum.value % 10 === 0 ? datum.label : ''", "title": "Rejection criterion \u00a0(ΔAIC)", "titleBaseline": "alphabetic", "titlePadding": 23}},
                         "y": {"field": "y", "type": "quantitative", "scale": {"domain": [0, 100], "nice": false}, "axis": {"values": [0, 50, 100], "labels": false, "title": null}},
                         "color": {"field": "s", "type": "nominal", "scale": {"domain": ["A", "F", "P", "U"], "range": ["#f0212a", "#22b14c", "#3b78c8", "#111111"]}, "legend": {"title": null, "columns": 2, "columnPadding": 8, "legendX": 11.5, "legendY": -46.5}}}},
                      {"mark": {"type": "point", "opacity": 0},
                       "encoding": {
                         "x": {"field": "x", "type": "quantitative", "axis": {"orient": "top", "values": [0, 5, 10, 15, 20], "labels": false, "title": null}},
                         "y": {"field": "y", "type": "quantitative", "axis": {"orient": "right", "values": [0, 50, 100], "labels": false, "title": null}}}}
                     ]},
                    {"width": 121, "height": 88, "data": {"name": "L"}, "transform": [{"filter": "datum.p == 'C3'"}],
                     "resolve": {"axis": {"x": "independent", "y": "independent"}},
                     "layer": [
                      {"mark": {"type": "line"},
                       "encoding": {
                         "x": {"field": "x", "type": "quantitative", "scale": {"domain": [0, 20], "nice": false}, "axis": {"values": [0, 5, 10, 15, 20], "labelExpr": "datum.value % 10 === 0 ? datum.label : ''", "title": null}},
                         "y": {"field": "y", "type": "quantitative", "scale": {"domain": [0, 100], "nice": false}, "axis": {"values": [0, 50, 100], "labels": false, "title": null}},
                         "color": {"field": "s", "type": "nominal", "scale": {"domain": ["Without NT", "With NT"], "range": ["#f0212a", "#22b14c"]}, "legend": {"title": null, "columns": 1, "rowPadding": -8.7, "legendX": 4, "legendY": -49.8}}}},
                      {"mark": {"type": "point", "opacity": 0},
                       "encoding": {
                         "x": {"field": "x", "type": "quantitative", "axis": {"orient": "top", "values": [0, 5, 10, 15, 20], "labels": false, "title": null}},
                         "y": {"field": "y", "type": "quantitative", "axis": {"orient": "right", "values": [0, 50, 100], "labels": false, "title": null}}}}
                     ]}
                  ]
                }
              ]
            }
          ]
        }
      ]
    }
  ]
}
